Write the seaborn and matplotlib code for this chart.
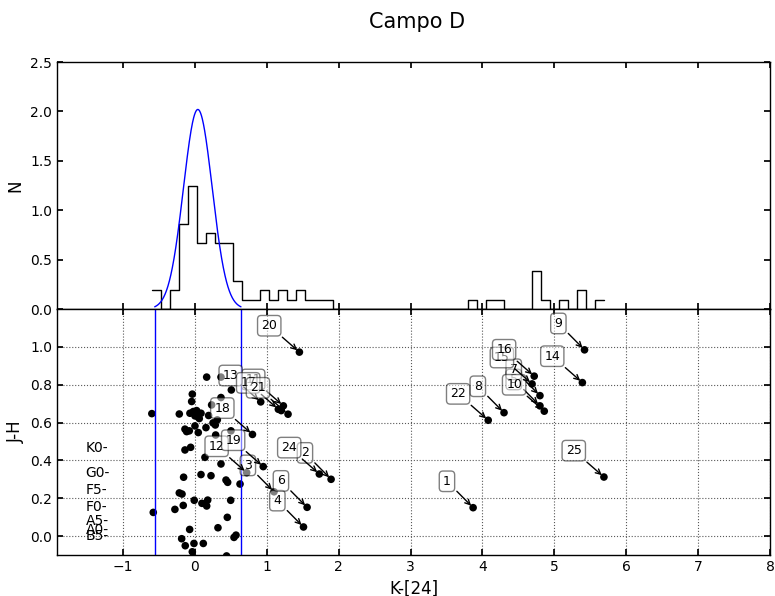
import numpy as np
import pandas as pd
import matplotlib
matplotlib.use('Agg')
import matplotlib.pyplot as plt
import seaborn as sns

# ---- datos ----
# histograma de K-[24]: 50 bins entre el minimo y el maximo, cuentas por bin
HIST_MIN = -0.603
HIST_MAX = 5.69
hist_counts = [2, 0, 2, 9, 13, 7, 8, 7, 7, 3,
               1, 1, 2, 1, 2, 1, 2, 1, 1, 1,
               0, 0, 0, 0, 0, 0, 0, 0, 0, 0,
               0, 0, 0, 0, 0, 1, 0, 1, 1, 0,
               0, 0, 4, 1, 0, 1, 0, 2, 0, 1]

# ajuste gaussiano
gauss_amp = 2.02
gauss_mu = 0.04
gauss_sigma = 0.2
n_sigma = 3

# estrellas del campo (sin etiqueta)
field_x = [-0.60, -0.58, 0.163, 0.362, 0.506, -0.037, -0.046, 0.362, 0.232, -0.218,
           -0.07, -0.023, 0.023, 0.084, 0.0, 0.06, 0.19, 0.311, 0.251, -0.139,
           -0.116, -0.079, 0.0, 0.046, 0.153, 0.283, 0.288, 0.501, -0.139, -0.06,
           0.139, 0.362, -0.158, 0.084, 0.223, 0.432, 0.455, 0.627, -0.218, -0.18,
           -0.01, 0.097, 0.177, 0.163, 0.497, -0.163, -0.279, 0.45, 0.32, -0.074,
           0.571, 0.543, -0.185, -0.135, -0.014, 0.116, -0.037, 0.44, 1.20]
field_y = [0.647, 0.125, 0.840, 0.840, 0.772, 0.750, 0.711, 0.732, 0.693, 0.645,
           0.649, 0.658, 0.663, 0.649, 0.635, 0.621, 0.637, 0.614, 0.598, 0.565,
           0.552, 0.556, 0.582, 0.547, 0.573, 0.587, 0.534, 0.556, 0.455, 0.469,
           0.416, 0.381, 0.311, 0.325, 0.319, 0.296, 0.284, 0.275, 0.228, 0.222,
           0.189, 0.173, 0.190, 0.159, 0.189, 0.162, 0.141, 0.099, 0.044, 0.035,
           0.005, -0.007, -0.014, -0.051, -0.039, -0.039, -0.083, -0.105, 0.663]

# candidatos con exceso en 24 micras
cand_id = [1, 2, 3, 4, 5, 6, 7, 8, 9, 10, 11, 12, 13,
           14, 15, 16, 17, 18, 19, 20, 21, 22, 24, 25]
cand_x = [3.87, 1.894, 1.10, 1.51, 4.80, 1.56, 4.80, 4.30, 5.42, 4.86, 1.23, 0.72, 0.915,
          5.39, 4.69, 4.72, 1.16, 0.80, 0.95, 1.453, 1.295, 4.08, 1.73, 5.69]
cand_y = [0.150, 0.300, 0.234, 0.048, 0.688, 0.152, 0.742, 0.652, 0.984, 0.660, 0.688, 0.335, 0.709,
          0.811, 0.804, 0.845, 0.670, 0.537, 0.367, 0.972, 0.644, 0.612, 0.328, 0.312]

# tipos espectrales (J-H intrinseco)
sp_types = ['K0-', 'G0-', 'F5-', 'F0-', 'A5-', 'A0-', 'B5-']
sp_jh = [0.464, 0.335, 0.243, 0.152, 0.081, 0.032, 0.0]
SP_X = -1.52

sns.set_theme(style='white')
plt.rcParams['font.family'] = ['DejaVu Sans']
plt.rcParams.update({
    'xtick.direction': 'in', 'ytick.direction': 'in',
    'xtick.top': True, 'ytick.right': True,
    'xtick.bottom': True, 'ytick.left': True,
    'xtick.major.size': 4, 'ytick.major.size': 4,
    'xtick.color': 'black', 'ytick.color': 'black',
    'axes.edgecolor': 'black', 'axes.labelcolor': 'black',
    'text.color': 'black', 'axes.linewidth': 1.0,
})

fig = plt.figure(figsize=(7.75, 5.96), dpi=100)
ax_h = fig.add_axes([0.0735, 0.4815, 0.92, 0.4144])
ax = fig.add_axes([0.0735, 0.0688, 0.92, 0.4128])

# histograma superior
nbins = len(hist_counts)
width = (HIST_MAX - HIST_MIN) / nbins
df_hist = pd.DataFrame({'k24': HIST_MIN + width * (np.arange(nbins) + 0.5),
                        'n': hist_counts})
sns.histplot(data=df_hist, x='k24', weights='n', bins=nbins,
             binrange=(HIST_MIN, HIST_MAX), stat='density',
             element='step', fill=False, color='black', linewidth=1, ax=ax_h)
lo = gauss_mu - n_sigma * gauss_sigma
hi = gauss_mu + n_sigma * gauss_sigma
xg = np.linspace(lo, hi, 300)
ax_h.plot(xg, gauss_amp * np.exp(-0.5 * ((xg - gauss_mu) / gauss_sigma) ** 2),
          color='blue', lw=1)
ax_h.set_xlim(-1.92, 8)
ax_h.set_ylim(0, 2.5)
ax_h.set_yticks([0.0, 0.5, 1.0, 1.5, 2.0, 2.5])
ax_h.set_xticks(range(-1, 9))
ax_h.tick_params(labelbottom=False, labelsize=10)
ax_h.set_ylabel('N', fontsize=12)
ax_h.set_xlabel('')

# diagrama color-color
sns.scatterplot(x=field_x, y=field_y, color='black', s=30, edgecolor='none', ax=ax)
sns.scatterplot(x=cand_x, y=cand_y, color='black', s=30, edgecolor='none', ax=ax)
ax.axvline(lo, color='blue', lw=1)
ax.axvline(hi, color='blue', lw=1)
for lab, x, y in zip(cand_id, cand_x, cand_y):
    ax.annotate(str(lab), xy=(x, y), xytext=(-16, 19), textcoords='offset points',
                ha='right', va='center', fontsize=9,
                bbox=dict(boxstyle='round,pad=0.3', fc='white', ec='black', alpha=0.5),
                arrowprops=dict(arrowstyle='->', color='black', connectionstyle='arc3,rad=0'))
for t, y in zip(sp_types, sp_jh):
    ax.text(SP_X, y, t, ha='left', va='center', fontsize=10)

ax.set_xlim(-1.92, 8)
ax.set_ylim(-0.1, 1.2)
ax.set_xticks(range(-1, 9))
ax.set_yticks([0.0, 0.2, 0.4, 0.6, 0.8, 1.0])
ax.grid(True, linestyle=':', color='0.35', linewidth=0.8)
ax.tick_params(labelsize=10)
ax.set_xlabel('K-[24]', fontsize=12)
ax.set_ylabel('J-H', fontsize=12)

fig.text(0.538, 0.963, 'Campo D', ha='center', va='center', fontsize=15)

plt.savefig('out.png', dpi=100)
plt.close()
